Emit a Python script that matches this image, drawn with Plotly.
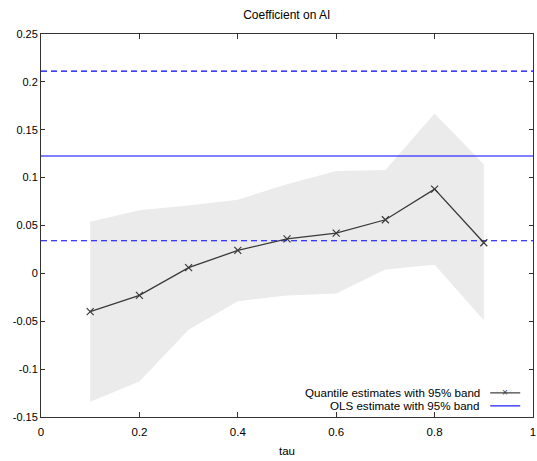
import plotly.graph_objects as go

# Quantile regression results for the AI coefficient
tau = [0.1, 0.2, 0.3, 0.4, 0.5, 0.6, 0.7, 0.8, 0.9]
coef = [-0.040, -0.023, 0.006, 0.024, 0.036, 0.042, 0.056, 0.088, 0.032]
band_upper = [0.054, 0.066, 0.071, 0.077, 0.093, 0.107, 0.108, 0.167, 0.114]
band_lower = [-0.134, -0.113, -0.059, -0.029, -0.023, -0.021, 0.004, 0.009, -0.049]

# OLS estimate and its 95% interval
ols_coef = 0.1226
ols_lower = 0.0340
ols_upper = 0.2112

x_ticks = [0, 0.2, 0.4, 0.6, 0.8, 1]
x_tick_labels = ["0", "0.2", "0.4", "0.6", "0.8", "1"]
y_ticks = [-0.15, -0.1, -0.05, 0, 0.05, 0.1, 0.15, 0.2, 0.25]
y_tick_labels = ["-0.15", "-0.1", "-0.05", "0", "0.05", "0.1", "0.15", "0.2", "0.25"]

legend_labels = ["Quantile estimates with 95% band", "OLS estimate with 95% band"]

FONT = "Liberation Sans, Arial, Helvetica, sans-serif"
LINE_GREY = "#3a3a3a"
BAND_GREY = "#ebebeb"
OLS_BLUE = "#0000ff"

fig = go.Figure()

# shaded confidence band for the quantile estimates
fig.add_trace(go.Scatter(
    x=tau + tau[::-1],
    y=band_upper + band_lower[::-1],
    fill="toself",
    fillcolor=BAND_GREY,
    line=dict(width=0),
    mode="lines",
    hoverinfo="skip",
    showlegend=False,
))

# OLS estimate (solid) and its bounds (dashed), spanning the full tau range
x_span = [x_ticks[0], x_ticks[-1]]
fig.add_trace(go.Scatter(
    x=x_span, y=[ols_coef, ols_coef], mode="lines",
    line=dict(color=OLS_BLUE, width=1.1), showlegend=False,
))
for bound in (ols_lower, ols_upper):
    fig.add_trace(go.Scatter(
        x=x_span, y=[bound, bound], mode="lines",
        line=dict(color=OLS_BLUE, width=1.1, dash="6px,4px"), showlegend=False,
    ))

# quantile estimates
fig.add_trace(go.Scatter(
    x=tau, y=coef, mode="lines+markers",
    line=dict(color=LINE_GREY, width=1.3),
    marker=dict(symbol="x-thin", size=7, line=dict(color=LINE_GREY, width=1.2)),
    showlegend=False,
))

# key in the lower-right corner: text on the left, sample on the right
row_y = [0.063, 0.029]
text_right = 0.896
sample_x0, sample_x1 = 0.913, 0.974
annotations = []
shapes = []
for label, y in zip(legend_labels, row_y):
    annotations.append(dict(
        text=label, x=text_right, y=y, xref="paper", yref="paper",
        xanchor="right", yanchor="middle", showarrow=False,
        font=dict(family=FONT, size=11.6, color="#000"),
    ))
shapes.append(dict(type="line", xref="paper", yref="paper",
                   x0=sample_x0, x1=sample_x1, y0=row_y[0], y1=row_y[0],
                   line=dict(color=LINE_GREY, width=1.2)))
shapes.append(dict(type="line", xref="paper", yref="paper",
                   x0=sample_x0, x1=sample_x1, y0=row_y[1], y1=row_y[1],
                   line=dict(color=OLS_BLUE, width=1.1)))

fig.update_layout(
    width=537, height=461,
    margin=dict(l=41, r=4, t=34, b=44),
    paper_bgcolor="white", plot_bgcolor="white",
    font=dict(family=FONT, size=11, color="#000"),
    title=dict(text="Coefficient on AI", x=0.534, xanchor="center",
               y=0.968, yanchor="middle", font=dict(family=FONT, size=12)),
    annotations=annotations,
    shapes=shapes,
    showlegend=False,
)

fig.update_xaxes(
    range=[0, 1], tickvals=x_ticks, ticktext=x_tick_labels,
    ticks="inside", ticklen=5, tickcolor="#333", mirror="ticks",
    showline=True, linecolor="#333", linewidth=1, showgrid=False, zeroline=False,
    automargin=False, ticklabelstandoff=4,
    title=dict(text="tau", standoff=10, font=dict(family=FONT, size=11.5)),
    tickfont=dict(family=FONT, size=11.5),
)
fig.update_yaxes(
    range=[-0.15, 0.25], tickvals=y_ticks, ticktext=y_tick_labels,
    ticks="inside", ticklen=4, tickcolor="#333", mirror="ticks",
    showline=True, linecolor="#333", linewidth=1, showgrid=False, zeroline=False,
    automargin=False,
    tickfont=dict(family=FONT, size=11),
)

# the marker of the quantile sample in the key
fig.add_annotation(
    text="\u00d7", x=(sample_x0 + sample_x1) / 2, y=row_y[0],
    xref="paper", yref="paper", showarrow=False,
    xanchor="center", yanchor="middle",
    font=dict(family=FONT, size=10, color=LINE_GREY),
)

fig.write_html("out.html")
